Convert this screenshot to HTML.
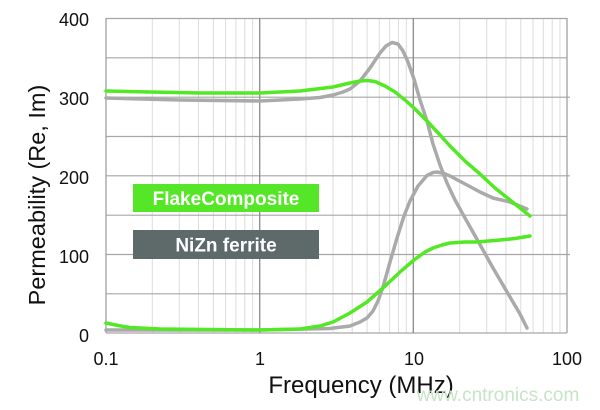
<!DOCTYPE html>
<html><head><meta charset="utf-8"><style>
html,body{margin:0;padding:0;background:#fff;}
svg{display:block;}
text{font-family:"Liberation Sans",Arial,sans-serif;}
</style></head><body>
<svg width="600" height="410" viewBox="0 0 600 410" xmlns="http://www.w3.org/2000/svg">
<rect width="600" height="410" fill="#fff"/>
<!-- minor vertical grid -->
<g stroke="#dcdcdc" stroke-width="1">
<line x1="152.3" y1="18" x2="152.3" y2="333"/><line x1="179.3" y1="18" x2="179.3" y2="333"/><line x1="198.5" y1="18" x2="198.5" y2="333"/><line x1="213.4" y1="18" x2="213.4" y2="333"/><line x1="225.6" y1="18" x2="225.6" y2="333"/><line x1="235.9" y1="18" x2="235.9" y2="333"/><line x1="244.8" y1="18" x2="244.8" y2="333"/><line x1="252.6" y1="18" x2="252.6" y2="333"/>
<line x1="306" y1="18" x2="306" y2="333"/><line x1="333" y1="18" x2="333" y2="333"/><line x1="352.2" y1="18" x2="352.2" y2="333"/><line x1="367.1" y1="18" x2="367.1" y2="333"/><line x1="379.3" y1="18" x2="379.3" y2="333"/><line x1="389.6" y1="18" x2="389.6" y2="333"/><line x1="398.5" y1="18" x2="398.5" y2="333"/><line x1="406.3" y1="18" x2="406.3" y2="333"/>
<line x1="459.7" y1="18" x2="459.7" y2="333"/><line x1="486.7" y1="18" x2="486.7" y2="333"/><line x1="505.9" y1="18" x2="505.9" y2="333"/><line x1="520.8" y1="18" x2="520.8" y2="333"/><line x1="533" y1="18" x2="533" y2="333"/><line x1="543.3" y1="18" x2="543.3" y2="333"/><line x1="552.2" y1="18" x2="552.2" y2="333"/><line x1="560" y1="18" x2="560" y2="333"/>
</g>
<!-- horizontal grid -->
<g stroke="#a6a6a6" stroke-width="1.2">
<line x1="106" y1="18.5" x2="567" y2="18.5"/>
<line x1="106" y1="57.8" x2="567" y2="57.8"/>
<line x1="106" y1="97.2" x2="570" y2="97.2"/>
<line x1="106" y1="136.5" x2="567" y2="136.5"/>
<line x1="106" y1="175.8" x2="570" y2="175.8"/>
<line x1="106" y1="215.2" x2="567" y2="215.2"/>
<line x1="106" y1="254.5" x2="570" y2="254.5"/>
<line x1="106" y1="293.8" x2="567" y2="293.8"/>
<line x1="106" y1="333" x2="567" y2="333"/>
</g>
<!-- major vertical -->
<g stroke="#8a8a8a" stroke-width="1.3">
<line x1="259.7" y1="18" x2="259.7" y2="333"/>
<line x1="413.3" y1="18" x2="413.3" y2="333"/>
</g>
<g stroke="#a0a0a0" stroke-width="1.3">
<line x1="106" y1="18" x2="106" y2="333"/>
<line x1="567" y1="18" x2="567" y2="333"/>
</g>
<!-- curves -->
<g fill="none" stroke-linejoin="round" stroke-linecap="round" stroke-width="3.5">
<polyline stroke="#aaaaaa" points="106,98 180,100 260,101 300,99 320,97.5 333,95 343,92 350,89 360,81 370,68 380,53 386,46 392,42.5 398,44 403,51 408,62 414,79 420,100 427,121 433,144 440,165 447,183 455,200 465,218 478,241 493,268 510,297 520,314 527,328"/>
<polyline stroke="#aaaaaa" points="106,330 260,330 330,328.5 350,326 360,322 367,318 373,311 378,301 383,287 390,262 397,238 404,216 410,201 418,186 427,175.5 433,172.5 437,172 444,173.5 450,176 467,185 480,192 493,198 510,202 527,209"/>
<polyline stroke="#52e824" points="106,91 150,92 200,93 260,93 300,91 333,87 350,83 360,81 367,80.5 375,81.5 385,86 395,92 405,100 414,108 427,121 440,135 450,146 465,161 480,174 495,188 510,200 520,208 530,216"/>
<polyline stroke="#52e824" points="106,323 118,325.5 130,327.5 160,329 260,330 300,329 320,326 333,322 350,313 367,302 383,288 400,272 414,260 425,252 433,248 442,245 450,243 465,242 477,242 500,240 515,238.5 530,236"/>
</g>
<!-- legend -->
<rect x="133" y="184" width="186" height="28" fill="#55e628"/>
<text x="226" y="205" font-size="19" font-weight="bold" fill="#fff" text-anchor="middle">FlakeComposite</text>
<rect x="133" y="230" width="186" height="29" fill="#5e6a6a"/>
<text x="226" y="251.5" font-size="19" font-weight="bold" fill="#fff" text-anchor="middle">NiZn ferrite</text>
<!-- y tick labels -->
<g font-size="18" fill="#111" text-anchor="end">
<text x="89" y="26">400</text>
<text x="89" y="105">300</text>
<text x="89" y="184">200</text>
<text x="89" y="263">100</text>
<text x="89" y="342">0</text>
</g>
<!-- x tick labels -->
<g font-size="18" fill="#111" text-anchor="middle">
<text x="106" y="365">0.1</text>
<text x="260" y="365">1</text>
<text x="414" y="365">10</text>
<text x="567" y="365">100</text>
</g>
<text x="361" y="393" font-size="24" fill="#111" text-anchor="middle">Frequency (MHz)</text>
<text transform="translate(45,195) rotate(-90)" font-size="23.5" fill="#111" text-anchor="middle">Permeability (Re, Im)</text>
<text x="498" y="401" font-size="19" fill="#c6e4c6" text-anchor="middle">www.cntronics.com</text>
</svg>
</body></html>
